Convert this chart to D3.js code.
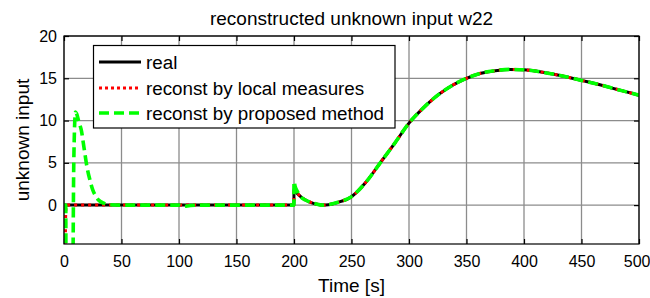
<!DOCTYPE html>
<html><head><meta charset="utf-8">
<script src="https://cdn.jsdelivr.net/npm/d3@7"></script>
<style>body{margin:0;background:#fff}svg{display:block}text{font-family:"Liberation Sans",Arial,sans-serif}</style>
</head><body><svg id="c" width="650" height="298"></svg>
<script>
// ---- data ----
const xTicks = [0,50,100,150,200,250,300,350,400,450,500];
const yTicks = [0,5,10,15,20];
const legendLabels = ["real","reconst by local measures","reconst by proposed method"];
// shared slow part (t >= 205)
const tailT = [205,210,215,220,225,230,237.5,250,262.5,275,287.5,300,312.5,325,337.5,350,362.5,375,387.5,400,412.5,425,437.5,450,462.5,475,487.5,500];
const tailV = [1.1,0.6,0.3,0.1,0.0,0.05,0.3,1.0,2.7,5.0,7.3,9.7,11.5,13.0,14.15,15.0,15.6,15.9,16.05,16.0,15.8,15.5,15.15,14.75,14.35,13.9,13.45,13.0];
const realT = [0,199.9,200,202].concat(tailT);
const realV = [0,0,1.9,1.5].concat(tailV);
const localT = [0,1,1.5,2,199.9,200,202].concat(tailT);
const localV = [-9,-6,-1,0,0,2.1,1.55].concat(tailV);
const propT = [0,1.5,1.8,7.5,8.5,10,11,13,15,17.5,20,22.5,25,27.5,30,35,40,50,100,103,110,120,199.9,200,201,203].concat(tailT);
const propV = [0,0,-10,-10,5,11,10.8,9.8,8.9,6.7,4.5,3.0,1.8,1.1,0.6,0.2,0.05,0,0,-0.15,-0.05,0,0,2.8,2.2,1.6].concat(tailV);

// ---- layout ----
const L=64,R=639,T=36,B=244;
const svg=d3.select("#c");
const x=d3.scaleLinear().domain([0,500]).range([L,R]);
const y=d3.scaleLinear().domain([-4.6,20]).range([B,T]);

// grid
const g=svg.append("g");
g.selectAll(".gx").data(xTicks).join("line").attr("x1",d=>x(d)).attr("x2",d=>x(d)).attr("y1",T).attr("y2",B).attr("stroke","#8c8c8c").attr("stroke-width",1.3);
g.selectAll(".gy").data(yTicks).join("line").attr("y1",d=>y(d)).attr("y2",d=>y(d)).attr("x1",L).attr("x2",R).attr("stroke","#8c8c8c").attr("stroke-width",1.3);

// axes
const ax=svg.append("g").attr("transform",`translate(0,${B})`).call(d3.axisBottom(x).tickValues(xTicks).tickSize(-5).tickPadding(12));
const ay=svg.append("g").attr("transform",`translate(${L},0)`).call(d3.axisLeft(y).tickValues(yTicks).tickSize(-5).tickPadding(7));
const axt=svg.append("g").attr("transform",`translate(0,${T})`).call(d3.axisTop(x).tickValues(xTicks).tickSize(-5).tickFormat(""));
const ayr=svg.append("g").attr("transform",`translate(${R},0)`).call(d3.axisRight(y).tickValues(yTicks).tickSize(-5).tickFormat(""));
[ax,ay,axt,ayr].forEach(a=>{a.select(".domain").remove();a.selectAll("line").attr("stroke","#000").attr("stroke-width",1.2);a.selectAll("text").attr("font-size",16).attr("fill","#000").attr("font-family","Liberation Sans, Arial, sans-serif");});
// keep last x label inside the window
ax.selectAll(".tick").filter(d=>d===500).select("text").attr("text-anchor","end").attr("dx","11");

// clip
svg.append("clipPath").attr("id","pc").append("rect").attr("x",L).attr("y",T).attr("width",R-L).attr("height",B-T);
const line=d3.line().x(d=>x(d[0])).y(d=>y(d[1])).curve(d3.curveMonotoneX);
const pl=svg.append("g").attr("clip-path","url(#pc)");
const styles=[
 {c:"#000",w:3,da:null},
 {c:"#ff0000",w:3,da:"3,4"},
 {c:"#00ff00",w:3.6,da:"10,5"}
];
const series=[[realT,realV],[localT,localV],[propT,propV]];
series.forEach((s,i)=>{
  pl.append("path").datum(s[0].map((t,j)=>[t,s[1][j]])).attr("d",line).attr("fill","none")
   .attr("stroke",styles[i].c).attr("stroke-width",styles[i].w).attr("stroke-dasharray",styles[i].da).attr("stroke-linejoin","round");
});

// box
svg.append("rect").attr("x",L).attr("y",T).attr("width",R-L).attr("height",B-T).attr("fill","none").attr("stroke","#000").attr("stroke-width",1.2);

// legend
const lg=svg.append("g");
lg.append("rect").attr("x",93.5).attr("y",45.5).attr("width",301.5).attr("height",82.5).attr("fill","#fff").attr("stroke","#000").attr("stroke-width",1.2);
const ly=[62,88,113];
const lstyles=[{c:"#000",w:3,da:null},{c:"#ff0000",w:3,da:"3,3"},{c:"#00ff00",w:3.6,da:"10,5"}];
legendLabels.forEach((lab,i)=>{
  lg.append("line").attr("x1",99).attr("x2",141).attr("y1",ly[i]).attr("y2",ly[i]).attr("stroke",lstyles[i].c).attr("stroke-width",lstyles[i].w).attr("stroke-dasharray",lstyles[i].da);
  lg.append("text").attr("x",146).attr("y",ly[i]).attr("dy","0.35em").attr("font-size",18.8).text(lab);
});

// labels
svg.append("text").attr("x",(L+R)/2).attr("y",25).attr("text-anchor","middle").attr("font-size",19).text("reconstructed unknown input w22");
svg.append("text").attr("x",(L+R)/2).attr("y",292).attr("text-anchor","middle").attr("font-size",19).text("Time [s]");
svg.append("text").attr("transform",`translate(29,${(T+B)/2}) rotate(-90)`).attr("text-anchor","middle").attr("font-size",19).text("unknown input");
</script></body></html>
